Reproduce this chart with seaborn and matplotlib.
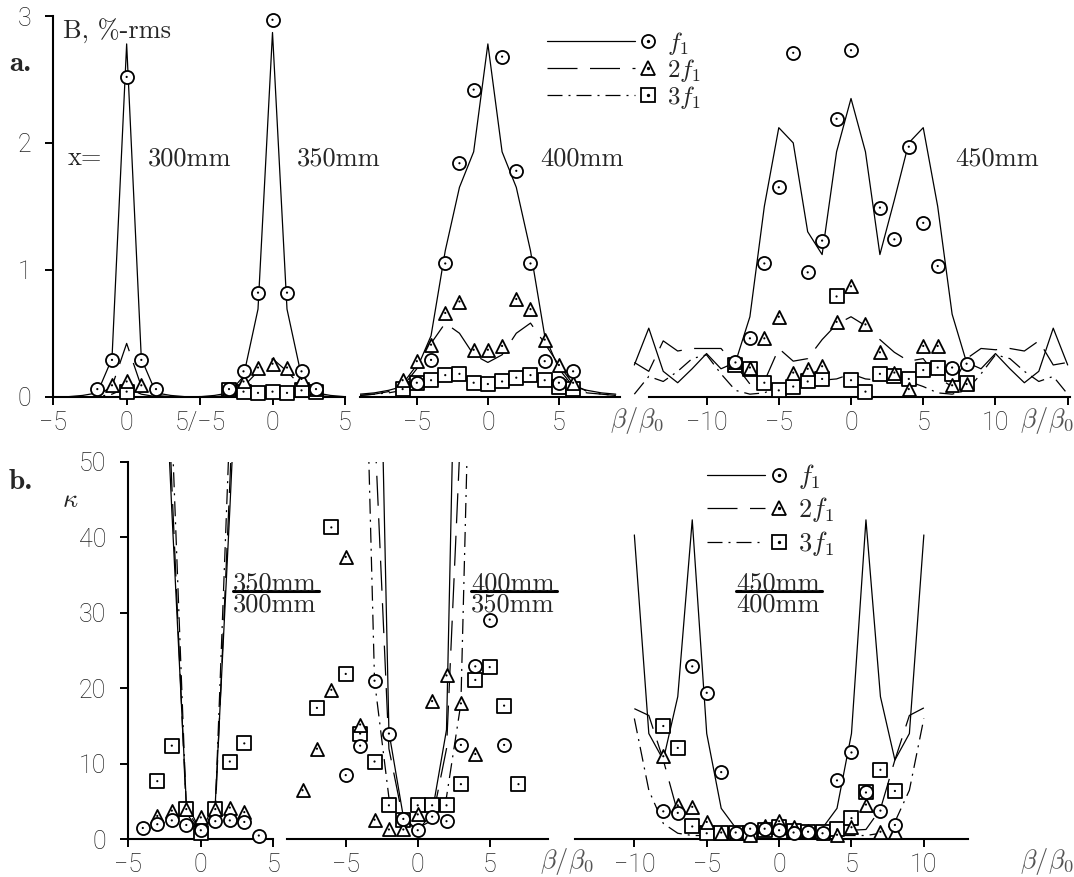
import matplotlib
matplotlib.use("Agg")
import numpy as np
import matplotlib.pyplot as plt
import seaborn as sns
from matplotlib.lines import Line2D
from matplotlib.legend_handler import HandlerBase

# ======================= DATA : panel a (B, %-rms) =======================
# x = 300 mm
beta_300 = [-5, -4, -3, -2, -1, 0, 1, 2, 3, 4, 5]
f1_line_300 = [0.0, 0.0, 0.01, 0.03, 0.30, 2.78, 0.30, 0.03, 0.01, 0.0, 0.0]
f2_line_300 = [0.0, 0.0, 0.0, 0.01, 0.08, 0.42, 0.08, 0.01, 0.0, 0.0, 0.0]
f3_line_300 = [0.0, 0.0, 0.0, 0.0, 0.02, 0.07, 0.02, 0.0, 0.0, 0.0, 0.0]
f1_px_300 = [-2, -1, 0, 1, 2]
f1_pt_300 = [0.06, 0.29, 2.52, 0.29, 0.06]
f2_px_300 = [-1, 0, 1]
f2_pt_300 = [0.09, 0.12, 0.09]
f3_px_300 = [0]
f3_pt_300 = [0.04]

# x = 350 mm
beta_350 = [-5, -4, -3, -2, -1, 0, 1, 2, 3, 4, 5]
f1_line_350 = [0.0, 0.01, 0.03, 0.16, 0.69, 2.87, 0.69, 0.16, 0.03, 0.01, 0.0]
f2_line_350 = [0.0, 0.0, 0.01, 0.08, 0.20, 0.30, 0.20, 0.08, 0.01, 0.0, 0.0]
f3_line_350 = [0.0, 0.0, 0.0, 0.02, 0.04, 0.06, 0.04, 0.02, 0.0, 0.0, 0.0]
px_350 = [-3, -2, -1, 0, 1, 2, 3]
f1_pt_350 = [0.06, 0.20, 0.82, 2.97, 0.82, 0.20, 0.06]
f2_pt_350 = [0.06, 0.12, 0.23, 0.26, 0.23, 0.14, 0.06]
f3_pt_350 = [0.05, 0.04, 0.03, 0.04, 0.03, 0.05, 0.04]

# x = 400 mm
beta_400 = [-9, -8, -7, -6, -5, -4, -3, -2, -1, 0, 1, 2, 3, 4, 5, 6, 7, 8, 9]
f1_line_400 = [0.02, 0.03, 0.05, 0.08, 0.22, 0.48, 1.15, 1.65, 1.93, 2.78,
               1.93, 1.65, 1.15, 0.48, 0.22, 0.08, 0.05, 0.03, 0.02]
f2_line_400 = [0.01, 0.02, 0.04, 0.10, 0.25, 0.42, 0.58, 0.50, 0.33, 0.27,
               0.33, 0.50, 0.58, 0.42, 0.25, 0.10, 0.04, 0.02, 0.01]
f3_line_400 = [0.01, 0.02, 0.03, 0.05, 0.10, 0.13, 0.15, 0.15, 0.11, 0.10,
               0.11, 0.14, 0.15, 0.13, 0.10, 0.05, 0.03, 0.02, 0.01]
f1_px_400 = [-5, -4, -3, -2, -1, 1, 2, 3, 4, 5, 6]
f1_pt_400 = [0.11, 0.29, 1.05, 1.84, 2.42, 2.68, 1.78, 1.05, 0.28, 0.11, 0.20]
px_400 = [-6, -5, -4, -3, -2, -1, 0, 1, 2, 3, 4, 5, 6]
f2_pt_400 = [0.13, 0.28, 0.41, 0.66, 0.75, 0.37, 0.37, 0.40, 0.77, 0.69, 0.45, 0.25, 0.11]
f3_pt_400 = [0.06, 0.11, 0.13, 0.17, 0.18, 0.11, 0.10, 0.12, 0.15, 0.17, 0.13, 0.08, 0.06]

# x = 450 mm
beta_450 = list(range(-15, 16))
f1_line_450 = [0.25, 0.54, 0.20, 0.11, 0.22, 0.34, 0.22, 0.27, 0.63, 1.50, 2.12,
               2.00, 1.30, 1.12, 1.93, 2.35, 1.93, 1.12, 1.55, 2.00, 2.12, 1.50,
               0.65, 0.27, 0.22, 0.34, 0.22, 0.11, 0.20, 0.54, 0.25]
f2_line_450 = [0.27, 0.20, 0.44, 0.36, 0.38, 0.38, 0.38, 0.25, 0.10, 0.12, 0.38,
               0.28, 0.30, 0.45, 0.57, 0.63, 0.56, 0.45, 0.35, 0.28, 0.30, 0.15,
               0.08, 0.30, 0.38, 0.37, 0.38, 0.36, 0.44, 0.25, 0.27]
f3_line_450 = [0.02, 0.16, 0.12, 0.20, 0.30, 0.33, 0.18, 0.05, 0.02, 0.03, 0.08,
               0.12, 0.15, 0.13, 0.14, 0.18, 0.14, 0.13, 0.15, 0.12, 0.08, 0.03,
               0.02, 0.05, 0.18, 0.33, 0.30, 0.20, 0.12, 0.16, 0.02]
f1_px_450 = [-8, -7, -6, -5, -4, -3, -2, -1, 0, 2, 3, 4, 5, 6, 7, 8]
f1_pt_450 = [0.27, 0.46, 1.05, 1.65, 2.71, 0.98, 1.23, 2.19, 2.73, 1.49, 1.24,
             1.97, 1.37, 1.03, 0.23, 0.26]
px_450 = [-8, -7, -6, -5, -4, -3, -2, -1, 0, 1, 2, 3, 4, 5, 6, 7, 8]
f2_pt_450 = [0.27, 0.23, 0.46, 0.63, 0.19, 0.22, 0.24, 0.59, 0.87, 0.57, 0.35,
             0.19, 0.06, 0.40, 0.40, 0.09, 0.10]
f3_pt_450 = [0.25, 0.22, 0.11, 0.05, 0.08, 0.12, 0.14, 0.79, 0.13, 0.04, 0.18,
             0.16, 0.14, 0.21, 0.23, 0.18, 0.11]

# ======================= DATA : panel b (kappa) =======================
# 350mm / 300mm
kb_x1 = [-3, -2, -1, 0, 1, 2, 3]
k1_f1_line = [85, 43.6, 4.8, 1.05, 4.8, 43.6, 85]
k1_f2_line = [95, 47, 3.5, 0.75, 3.5, 47, 95]
k1_f3_line = [110, 55, 4.0, 1.0, 4.0, 55, 110]
k1_f1_px = [-4, -3, -2, -1, 0, 1, 2, 3, 4]
k1_f1_pt = [1.5, 2.0, 2.5, 1.9, 1.2, 2.4, 2.5, 2.3, 0.5]
k1_px = [-3, -2, -1, 0, 1, 2, 3]
k1_f2_pt = [3.1, 3.8, 4.0, 2.9, 4.0, 4.2, 3.6]
k1_f3_pt = [7.7, 12.4, 4.0, 0.85, 4.0, 10.3, 12.7]

# 400mm / 350mm
kb_x2 = [-4, -3, -2, -1, 0, 1, 2, 3, 4]
k2_f1_line = [150, 104, 14.2, 3.0, 1.1, 3.5, 14.5, 104, 150]
k2_f2_line = [110, 55, 12, 2.5, 1.2, 2.5, 12, 55, 110]
k2_f3_line = [95, 21, 5.5, 2.5, 1.5, 2.5, 5.6, 18, 95]
k2_f1_px = [-5, -4, -3, -2, -1, 0, 1, 2, 3, 4, 5, 6]
k2_f1_pt = [8.5, 12.4, 21.0, 14.0, 2.7, 1.2, 3.0, 2.4, 12.5, 22.9, 29.1, 12.5]
k2_f2_px = [-8, -7, -6, -5, -4, -3, -2, -1, 0, 1, 2, 3, 4]
k2_f2_pt = [6.5, 12.0, 19.8, 37.4, 15.2, 2.6, 1.3, 1.3, 3.3, 18.3, 21.7, 18.0, 11.3]
k2_f3_px = [-7, -6, -5, -4, -3, -2, -1, 0, 1, 2, 3, 4, 5, 6, 7]
k2_f3_pt = [17.4, 41.3, 21.9, 14.0, 10.3, 4.5, 2.6, 4.5, 4.5, 4.5, 7.3, 21.1, 22.8, 17.7, 7.3]

# 450mm / 400mm
kb_x3 = list(range(-10, 11))
k3_f1_line = [40.3, 14.0, 10.5, 18.9, 42.3, 14.0, 4.1, 1.5, 1.0, 0.9, 1.0,
              0.9, 1.0, 1.5, 4.1, 14.0, 42.3, 18.9, 10.5, 14.0, 40.3]
k3_f2_line = [17.3, 16.4, 10.5, 3.5, 1.3, 1.2, 1.1, 1.0, 1.0, 1.0, 1.0,
              1.0, 1.0, 1.0, 1.1, 1.2, 1.3, 4.0, 10.5, 16.4, 17.4]
k3_f3_line = [16.0, 6.5, 2.1, 0.8, 0.5, 0.5, 0.5, 0.6, 0.6, 0.6, 0.6,
              0.6, 0.6, 0.6, 0.5, 0.5, 0.5, 0.8, 2.3, 6.5, 16.0]
k3_px = [-8, -7, -6, -5, -4, -3, -2, -1, 0, 1, 2, 3, 4, 5, 6, 7, 8]
k3_f1_pt = [3.7, 3.5, 22.9, 19.4, 8.9, 0.9, 1.4, 1.4, 1.2, 0.9, 1.0, 0.8, 7.8, 11.5, 6.2, 3.8, 1.9]
k3_f2_pt = [11.0, 4.5, 4.3, 2.3, 0.9, 0.8, 0.6, 1.8, 2.4, 1.6, 1.1, 0.8, 0.6, 1.6, 4.6, 1.0, 1.0]
k3_f3_pt = [15.0, 12.1, 1.7, 0.8, 0.8, 0.8, 0.9, 1.2, 1.6, 1.1, 1.0, 1.0, 1.3, 2.8, 6.2, 9.2, 6.4]

series_labels = [r'$f_1$', r'$2f_1$', r'$3f_1$']

# ======================= STYLE =======================
sns.set_style("ticks")
plt.rcParams['font.family'] = ['DejaVu Sans']
plt.rcParams['mathtext.fontset'] = 'cm'

W, H = 1074, 877
fig = plt.figure(figsize=(W / 100, H / 100), dpi=100)

LS = {'f1': '-', '2f1': (0, (24, 10)), '3f1': (0, (12, 4.8, 1.6, 4.8))}
MK = {'f1': 'o', '2f1': '^', '3f1': 's'}
ZM = {'3f1': 4, '2f1': 5, 'f1': 6}
LW = 0.9
MS = 9.4
TICKC = '#222222'
TICKFONT = dict(fontfamily=['Roboto', 'DejaVu Sans'], fontweight='light', fontsize=18,
                color=TICKC)
CM = 'cmr10'


def add_ax(L, R, T, B, xlim, ylim):
    ax = fig.add_axes([L / W, 1 - B / H, (R - L) / W, (B - T) / H])
    ax.set_xlim(*xlim)
    ax.set_ylim(*ylim)
    ax.patch.set_visible(False)
    for s in ['top', 'right', 'left']:
        ax.spines[s].set_visible(False)
    ax.spines['bottom'].set_linewidth(1.5)
    ax.spines['bottom'].set_color('k')
    ax.tick_params(axis='x', direction='out', length=6, width=1.4, pad=4, color='k')
    ax.tick_params(axis='y', left=False, labelleft=False)
    return ax


def style_y(ax, ticks):
    ax.spines['left'].set_visible(True)
    ax.spines['left'].set_linewidth(1.5)
    ax.spines['left'].set_color('k')
    ax.set_yticks(ticks, [str(t) for t in ticks], **TICKFONT)
    ax.tick_params(axis='y', left=True, labelleft=True, direction='out', length=6,
                   width=1.4, pad=10, color='k')


def lines(ax, x, ys):
    for key, y in zip(['f1', '2f1', '3f1'], ys):
        sns.lineplot(x=x, y=y, ax=ax, color='k', linewidth=LW, linestyle=LS[key],
                     errorbar=None, sort=False, zorder=2)


def points(ax, key, x, y):
    sns.scatterplot(x=x, y=y, ax=ax, marker=MK[key], s=MS ** 2, color='k',
                    facecolor='white', edgecolor='k', linewidth=1.3,
                    zorder=ZM[key], clip_on=False, legend=False)
    sns.scatterplot(x=x, y=y, ax=ax, marker='o', s=2.5, color='k', edgecolor='none',
                    linewidth=0, zorder=ZM[key] + 0.5, clip_on=False, legend=False)


def xt(ax, ticks, labels=None):
    if labels is None:
        labels = [str(t).replace('-', '\u2212') for t in ticks]
    ax.set_xticks(ticks, labels, **TICKFONT)
    ax.set_xlabel('')
    ax.set_ylabel('')


def txt(x, y, s, **kw):
    kw.setdefault('va', 'baseline')
    kw.setdefault('ha', 'left')
    return fig.text(x / W, 1 - y / H, s, **kw)


# ======================= PANEL a =======================
TOP_T, TOP_B = 16, 396.7
P1 = add_ax(53.3, 200, TOP_T, TOP_B, (-5, 5), (0, 3))
P2 = add_ax(200, 345, TOP_T, TOP_B, (-5, 5), (0, 3))
P3 = add_ax(360, 620, TOP_T, TOP_B, (-9.0, 9.3), (0, 3))
P4 = add_ax(630, 1070, TOP_T, TOP_B, (-15.3, 15.16), (0, 3))
P4.spines['bottom'].set_bounds(-14, 15.16)

lines(P1, beta_300, [f1_line_300, f2_line_300, f3_line_300])
points(P1, '3f1', f3_px_300, f3_pt_300)
points(P1, '2f1', f2_px_300, f2_pt_300)
points(P1, 'f1', f1_px_300, f1_pt_300)

lines(P2, beta_350, [f1_line_350, f2_line_350, f3_line_350])
points(P2, '3f1', px_350, f3_pt_350)
points(P2, '2f1', px_350, f2_pt_350)
points(P2, 'f1', px_350, f1_pt_350)

lines(P3, beta_400, [f1_line_400, f2_line_400, f3_line_400])
points(P3, '3f1', px_400, f3_pt_400)
points(P3, '2f1', px_400, f2_pt_400)
points(P3, 'f1', f1_px_400, f1_pt_400)

lines(P4, beta_450, [f1_line_450, f2_line_450, f3_line_450])
points(P4, '3f1', px_450, f3_pt_450)
points(P4, '2f1', px_450, f2_pt_450)
points(P4, 'f1', f1_px_450, f1_pt_450)

style_y(P1, [0, 1, 2, 3])
P1.spines['left'].set_bounds(0, 3)
xt(P1, [-5, 0])
xt(P2, [-5, 0, 5], ['5/\u22125', '0', '5'])
xt(P3, [-5, 0, 5])
xt(P4, [-10, -5, 0, 5, 10, 15], ['\u221210', '\u22125', '0', '5', '10', ''])

# ======================= PANEL b =======================
BOT_T, BOT_B = 461.7, 839.3
Q1 = add_ax(128.3, 273.3, BOT_T, BOT_B, (-5, 5), (0, 50))
Q2 = add_ax(287, 548, BOT_T, BOT_B, (-9.08, 9.05), (0, 50))
Q3 = add_ax(575, 968, BOT_T, BOT_B, (-14.1, 13.05), (0, 50))

lines(Q1, kb_x1, [k1_f1_line, k1_f2_line, k1_f3_line])
points(Q1, '3f1', k1_px, k1_f3_pt)
points(Q1, '2f1', k1_px, k1_f2_pt)
points(Q1, 'f1', k1_f1_px, k1_f1_pt)

lines(Q2, kb_x2, [k2_f1_line, k2_f2_line, k2_f3_line])
points(Q2, '3f1', k2_f3_px, k2_f3_pt)
points(Q2, '2f1', k2_f2_px, k2_f2_pt)
points(Q2, 'f1', k2_f1_px, k2_f1_pt)

lines(Q3, kb_x3, [k3_f1_line, k3_f2_line, k3_f3_line])
points(Q3, '3f1', k3_px, k3_f3_pt)
points(Q3, '2f1', k3_px, k3_f2_pt)
points(Q3, 'f1', k3_px, k3_f1_pt)

style_y(Q1, [0, 10, 20, 30, 40, 50])
Q1.spines['left'].set_bounds(0, 50)
xt(Q1, [-5, 0, 5])
xt(Q2, [-5, 0, 5])
xt(Q3, [-10, -5, 0, 5, 10])


# ======================= LEGENDS =======================
class LineThenMarker(HandlerBase):
    def __init__(self, line_frac, marker_frac):
        super().__init__()
        self.lf = line_frac
        self.mf = marker_frac

    def create_artists(self, legend, orig, xdescent, ydescent, width, height,
                       fontsize, trans):
        y = height / 2 - ydescent
        x0 = -xdescent
        ln = Line2D([x0, x0 + self.lf * width], [y, y])
        ln.update_from(orig)
        ln.set_marker('None')
        mk = Line2D([x0 + self.mf * width], [y])
        mk.update_from(orig)
        mk.set_linestyle('None')
        dot = Line2D([x0 + self.mf * width], [y], marker='o', ms=1.4, color='k',
                     linestyle='None')
        for a in (ln, mk, dot):
            a.set_transform(trans)
        return [ln, mk, dot]


def make_handles():
    return [Line2D([], [], color='k', lw=LW, linestyle=LS[k], marker=MK[k], ms=MS,
                   mfc='white', mec='k', mew=1.3) for k in ['f1', '2f1', '3f1']]


hA = make_handles()
fig.legend(hA, series_labels, loc='upper left', bbox_to_anchor=(547 / W, 1 - 30 / H),
           frameon=False, borderpad=0, borderaxespad=0, fontsize=18,
           handlelength=4.32, handletextpad=0.48, labelspacing=0.0,
           handler_map={h: LineThenMarker(0.815, 0.935) for h in hA})
hB = make_handles()
fig.legend(hB, series_labels, loc='upper left', bbox_to_anchor=(707 / W, 1 - 462 / H),
           frameon=False, borderpad=0, borderaxespad=0, fontsize=19,
           handlelength=2.99, handletextpad=0.45, labelspacing=0.17,
           handler_map={h: LineThenMarker(0.734, 0.91) for h in hB})

# ======================= TEXT =======================
txt(63, 39, 'B, %-rms', family=CM, size=19)
txt(9, 71, 'a.', family='cmb10', size=21)
txt(9, 489, 'b.', family='cmb10', size=21)
txt(68, 165, 'x=', family=CM, size=19)
txt(148, 165, '300mm', family=CM, size=19)
txt(297, 165, '350mm', family=CM, size=19)
txt(540, 165, '400mm', family=CM, size=19)
txt(955, 165, '450mm', family=CM, size=19)
txt(62, 507, r'$\kappa$', size=19)

# stacked fractions: one text per fraction, with the fraction bar drawn under the numerator
for left, num, den in [(233, '350mm', '300mm'), (471, '400mm', '350mm'),
                       (736, '450mm', '400mm')]:
    txt(left, 572, num + '\n' + den, family=CM, size=19, va='top', linespacing=0.86)
    fig.add_artist(Line2D([left / W, (left + 86) / W], [1 - 590.5 / H, 1 - 590.5 / H],
                          transform=fig.transFigure, color='k', lw=2.2))

for x, y in [(610, 427), (1020, 427), (540, 868), (1020, 868)]:
    txt(x, y, r'$\beta/\beta_0$', size=19, color='#555555')

fig.savefig('out.png', dpi=100)
